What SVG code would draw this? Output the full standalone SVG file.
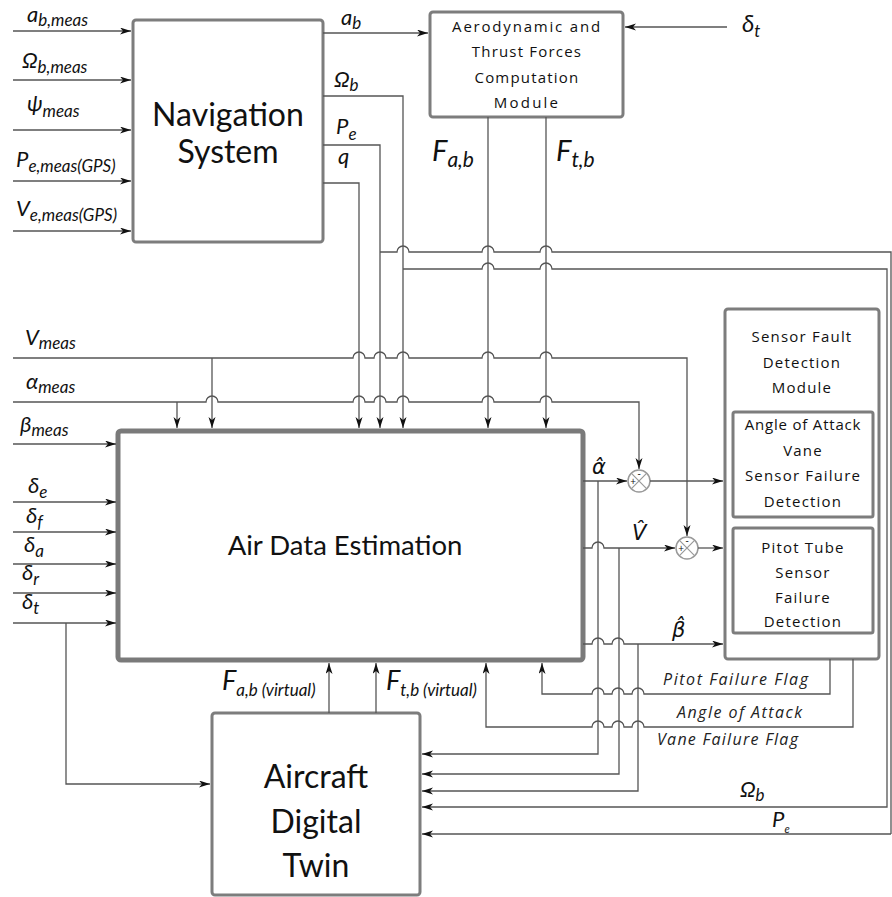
<svg xmlns="http://www.w3.org/2000/svg" width="892" height="897" viewBox="0 0 892 897">
<defs>
<marker id="arr" markerUnits="userSpaceOnUse" markerWidth="12" markerHeight="8" refX="11" refY="3.5" orient="auto">
<path d="M0,0 L11,3.5 L0,7 L3,3.5 z" fill="#111"/>
</marker>
</defs>
<style>
.ln{fill:none;stroke:#555;stroke-width:1.3}
.ar{marker-end:url(#arr)}
.box{fill:#fff;stroke:#7d7d7d;stroke-width:3}
.big{fill:#fff;stroke:#7a7a7a;stroke-width:5}
.bt{font-family:Lato,"Open Sans",sans-serif;font-size:32px;fill:#111;text-anchor:middle}
.st{font-family:"Open Sans",sans-serif;font-size:15px;fill:#111;text-anchor:middle;letter-spacing:1.2px}
.m{font-family:Lato,"Open Sans",sans-serif;font-style:italic;font-size:22px;fill:#111}
.s{font-size:17px}
.h{font-family:"DejaVu Sans","Noto Sans",sans-serif;font-style:italic;font-size:21px;fill:#111}
.fl{font-family:"Open Sans",sans-serif;font-style:italic;font-size:16px;fill:#222}
.sum{fill:#fff;stroke:#999;stroke-width:1.5}
.x{stroke:#999;stroke-width:1.2}
.pm{font-family:"Open Sans",sans-serif;font-size:10px;fill:#111;text-anchor:middle}
</style>

<g id="nav">
<rect class="box" x="133" y="20" width="190" height="222" rx="3"/>
<text class="bt" x="228" y="126">Navigation</text>
<text class="bt" x="228" y="163">System</text>
</g>

<g id="aero">
<rect class="box" x="430" y="12" width="193" height="105" rx="3"/>
<text class="st" x="527" y="32" style="letter-spacing:1.8px">Aerodynamic and</text>
<text class="st" x="527" y="57">Thrust Forces</text>
<text class="st" x="527" y="83">Computation</text>
<text class="st" x="527" y="108" style="letter-spacing:2.2px">Module</text>
</g>

<g id="ade">
<rect class="big" x="118" y="431" width="465" height="229" rx="3"/>
<text class="bt" x="345" y="555" style="font-size:27.5px">Air Data Estimation</text>
</g>

<g id="sfd">
<rect class="box" x="725" y="309" width="154" height="350" rx="3"/>
<text class="st" x="802" y="342">Sensor Fault</text>
<text class="st" x="802" y="368">Detection</text>
<text class="st" x="802" y="393">Module</text>
</g>

<g id="aoa">
<rect class="box" x="733" y="412" width="140" height="105" rx="2"/>
<text class="st" x="803" y="430" style="letter-spacing:0.8px">Angle of Attack</text>
<text class="st" x="803" y="456">Vane</text>
<text class="st" x="803" y="481">Sensor Failure</text>
<text class="st" x="803" y="507">Detection</text>
</g>

<g id="pitot">
<rect class="box" x="733" y="528" width="140" height="105" rx="2"/>
<text class="st" x="803" y="553">Pitot Tube</text>
<text class="st" x="803" y="578">Sensor</text>
<text class="st" x="803" y="603">Failure</text>
<text class="st" x="803" y="627">Detection</text>
</g>

<g id="twin">
<rect class="box" x="212" y="713" width="208" height="182" rx="3"/>
<text class="bt" x="316" y="788">Aircraft</text>
<text class="bt" x="316" y="833">Digital</text>
<text class="bt" x="316" y="877">Twin</text>
</g>

<g id="sum1">
<circle class="sum" cx="639" cy="481" r="11"/>
<path class="x" d="M631.2,473.2 L646.8,488.8 M646.8,473.2 L631.2,488.8"/>
<text class="pm" x="639" y="477">-</text>
<text class="pm" x="633" y="485">+</text>
</g>
<g id="sum2">
<circle class="sum" cx="687" cy="548" r="11"/>
<path class="x" d="M679.2,540.2 L694.8,555.8 M694.8,540.2 L679.2,555.8"/>
<text class="pm" x="687" y="544">-</text>
<text class="pm" x="681" y="552">+</text>
</g>

<g id="connectors">
<path class="ln ar" d="M13,31 H131"/>
<path class="ln ar" d="M13,80 H131"/>
<path class="ln ar" d="M13,130 H131"/>
<path class="ln ar" d="M13,181 H131"/>
<path class="ln ar" d="M13,231 H131"/>
<path class="ln ar" d="M323,33 H428"/>
<path class="ln ar" d="M727,27 H625"/>
<path class="ln ar" d="M323,96 H403 V428"/>
<path class="ln ar" d="M323,145 H380 V428"/>
<path class="ln ar" d="M323,183 H359 V428"/>
<path class="ln ar" d="M488,117 V428"/>
<path class="ln ar" d="M546,117 V428"/>
<path class="ln" d="M380,252 H397 a6,6 0 0 1 12,0 H482 a6,6 0 0 1 12,0 H540 a6,6 0 0 1 12,0 H891 V834"/>
<path class="ln ar" d="M891,834 H422"/>
<path class="ln ar" d="M403,269 H482 a6,6 0 0 1 12,0 H540 a6,6 0 0 1 12,0 H887 V807 H422"/>
<path class="ln ar" d="M13,358 H353 a6,6 0 0 1 12,0 H374 a6,6 0 0 1 12,0 H397 a6,6 0 0 1 12,0 H482 a6,6 0 0 1 12,0 H540 a6,6 0 0 1 12,0 H687 V536"/>
<path class="ln ar" d="M212,358 V428"/>
<path class="ln ar" d="M13,402 H206 a6,6 0 0 1 12,0 H353 a6,6 0 0 1 12,0 H374 a6,6 0 0 1 12,0 H397 a6,6 0 0 1 12,0 H482 a6,6 0 0 1 12,0 H540 a6,6 0 0 1 12,0 H639 V469"/>
<path class="ln ar" d="M177,402 V428"/>
<path class="ln ar" d="M13,444 H116"/>
<path class="ln ar" d="M13,502 H116"/>
<path class="ln ar" d="M13,532 H116"/>
<path class="ln ar" d="M13,564 H116"/>
<path class="ln ar" d="M13,593 H116"/>
<path class="ln ar" d="M13,623 H116"/>
<path class="ln ar" d="M66,623 V784 H210"/>
<path class="ln ar" d="M329,713 V663"/>
<path class="ln ar" d="M376,713 V663"/>
<path class="ln ar" d="M583,481 H627"/>
<path class="ln ar" d="M650,481 H723"/>
<path class="ln ar" d="M598,481 V754 H422"/>
<path class="ln ar" d="M583,548 H592 a6,6 0 0 1 12,0 H675"/>
<path class="ln ar" d="M698,548 H723"/>
<path class="ln ar" d="M619,548 V774 H422"/>
<path class="ln ar" d="M583,644 H592 a6,6 0 0 1 12,0 H612 a6,6 0 0 1 12,0 H723"/>
<path class="ln ar" d="M638,644 V791 H422"/>
<path class="ln ar" d="M830,659 V694 H644 a6,6 0 0 0 -12,0 H624 a6,6 0 0 0 -12,0 H604 a6,6 0 0 0 -12,0 H542 V663"/>
<path class="ln ar" d="M853,659 V727 H644 a6,6 0 0 0 -12,0 H624 a6,6 0 0 0 -12,0 H604 a6,6 0 0 0 -12,0 H486 V663"/>
</g>

<g id="labels">
<text class="m" x="27" y="22">a<tspan class="s" dy="4">b,meas</tspan></text>
<text class="m" x="22" y="68">Ω<tspan class="s" dy="5">b,meas</tspan></text>
<text class="m" x="27" y="111">ψ<tspan class="s" dy="6">meas</tspan></text>
<text class="m" x="16" y="167">P<tspan class="s" dy="5">e,meas(GPS)</tspan></text>
<text class="m" x="16" y="216">V<tspan class="s" dy="5">e,meas(GPS)</tspan></text>

<text class="m" x="341" y="25">a<tspan class="s" dy="4">b</tspan></text>
<text class="m" x="334" y="87">Ω<tspan class="s" dy="4">b</tspan></text>
<text class="m" x="336" y="134">P<tspan class="s" dy="6">e</tspan></text>
<text class="m" x="338" y="164">q</text>

<text class="m" x="432" y="161" style="font-size:29px">F<tspan font-size="21" dy="6">a,b</tspan></text>
<text class="m" x="556" y="161" style="font-size:29px">F<tspan font-size="21" dy="6">t,b</tspan></text>
<text class="m" x="742" y="32" style="font-size:24px">δ<tspan class="s" dy="5">t</tspan></text>

<text class="m" x="25" y="345">V<tspan class="s" dy="4">meas</tspan></text>
<text class="m" x="26" y="389">α<tspan class="s" dy="4">meas</tspan></text>
<text class="m" x="20" y="432">β<tspan class="s" dy="4">meas</tspan></text>
<text class="m" x="28" y="493">δ<tspan class="s" dy="5">e</tspan></text>
<text class="m" x="26" y="523">δ<tspan class="s" dy="5">f</tspan></text>
<text class="m" x="24" y="552">δ<tspan class="s" dy="5">a</tspan></text>
<text class="m" x="22" y="580">δ<tspan class="s" dy="5">r</tspan></text>
<text class="m" x="22" y="609">δ<tspan class="s" dy="5">t</tspan></text>

<text class="h" x="592" y="474">α̂</text>
<text class="h" x="632" y="540">V̂</text>
<text class="h" x="672" y="637">β̂</text>

<text class="fl" x="663" y="685" textLength="145" lengthAdjust="spacing">Pitot Failure Flag</text>
<text class="fl" x="677" y="718" textLength="125" lengthAdjust="spacing">Angle of Attack</text>
<text class="fl" x="657" y="745" textLength="141" lengthAdjust="spacing">Vane Failure Flag</text>

<text class="m" x="740" y="797">Ω<tspan class="s" dy="4">b</tspan></text>
<text class="m" x="772" y="827">P<tspan font-size="11" dy="6">e</tspan></text>

<text class="m" x="222" y="690" style="font-size:27px">F<tspan font-size="17" dy="6">a,b (virtual)</tspan></text>
<text class="m" x="386" y="690" style="font-size:27px">F<tspan font-size="17" dy="6">t,b (virtual)</tspan></text>
</g>
</svg>
